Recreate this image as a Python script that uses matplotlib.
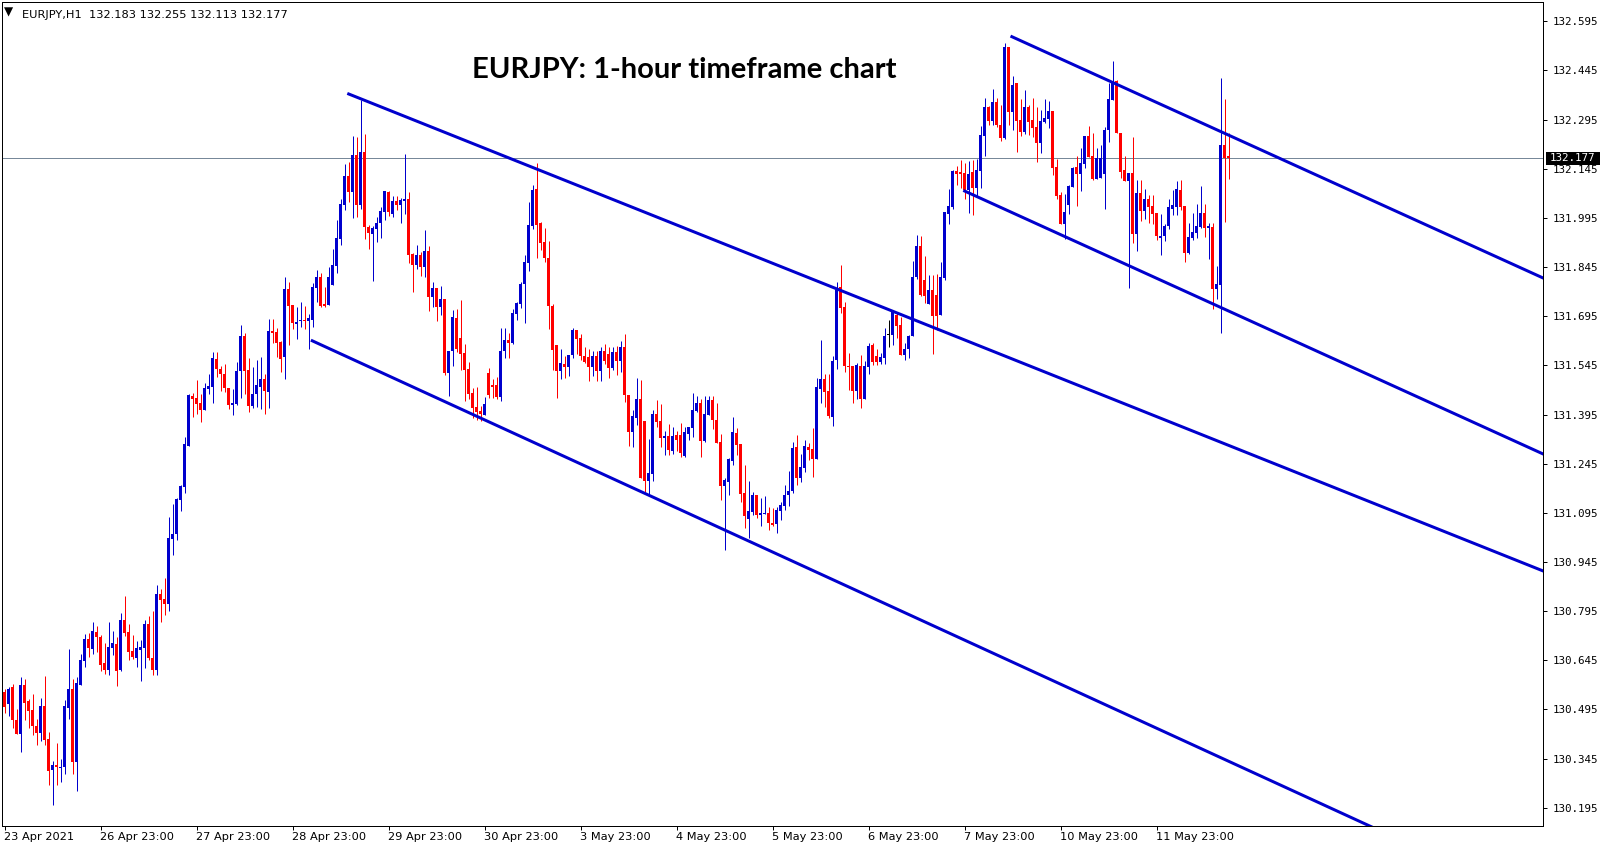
import matplotlib
matplotlib.use("Agg")
import matplotlib.pyplot as plt
from matplotlib import font_manager
from matplotlib.patches import Rectangle
import numpy as np

# ---------------- data (EURJPY H1) ----------------
opens = [
130.549,130.513,130.563,130.462,130.421,130.570,130.521,130.493,130.445,130.424,
130.505,130.405,130.311,130.325,130.317,130.320,130.500,130.557,130.336,130.571,
130.644,130.710,130.680,130.731,130.716,130.637,130.616,130.684,130.695,130.616,
130.768,130.731,130.674,130.653,130.677,130.684,130.756,130.653,130.615,130.848,
130.832,130.817,131.015,131.031,131.134,131.174,131.299,131.452,131.446,131.430,
131.409,131.473,131.479,131.565,131.534,131.519,131.476,131.424,131.427,131.528,
131.635,131.531,131.421,131.458,131.479,131.504,131.464,131.650,131.647,131.616,
131.571,131.778,131.729,131.671,131.680,131.684,131.680,131.684,131.781,131.815,
131.732,131.729,131.790,131.848,131.931,132.034,132.123,132.074,132.187,132.034,
132.196,131.967,131.946,131.961,131.980,132.013,132.074,132.007,132.047,132.034,
132.047,132.053,131.885,131.851,131.882,131.845,131.894,131.754,131.781,131.723,
131.748,131.522,131.589,131.690,131.629,131.583,131.534,131.461,131.418,131.406,
131.394,131.522,131.485,131.485,131.449,131.589,131.622,131.613,131.702,131.732,
131.793,131.857,131.970,132.083,131.979,131.922,131.873,131.726,131.607,131.528,
131.549,131.540,131.577,131.653,131.629,131.575,131.570,131.541,131.575,131.529,
131.590,131.580,131.538,131.585,131.558,131.600,131.456,131.343,131.386,131.443,
131.375,131.193,131.215,131.397,131.375,131.324,131.330,131.285,131.333,131.333,
131.270,131.337,131.355,131.407,131.430,131.315,131.395,131.439,131.378,131.312,
131.176,131.189,131.253,131.339,131.305,131.156,131.076,131.098,131.150,131.089,
131.092,131.095,131.064,131.061,131.101,131.116,131.150,131.162,131.296,131.201,
131.232,131.296,131.290,131.259,131.473,131.504,131.467,131.388,131.562,131.784,
131.723,131.543,131.543,131.467,131.543,131.442,131.540,131.607,131.574,131.556,
131.568,131.638,131.638,131.699,131.668,131.577,131.595,131.635,131.815,131.909,
131.806,131.732,131.775,131.760,131.699,131.812,132.007,132.028,132.138,132.135,
132.132,132.080,132.135,132.086,132.138,132.245,132.334,132.291,132.349,132.279,
132.239,132.517,132.318,132.407,132.294,132.257,132.334,132.294,132.272,132.224,
132.288,132.297,132.321,132.150,132.065,131.977,132.034,132.089,132.150,132.129,
132.160,132.245,132.184,132.114,132.117,132.129,132.263,132.355,132.413,132.254,
132.141,132.108,132.132,131.946,132.071,132.016,132.053,132.032,132.010,131.934,
131.940,131.970,132.022,132.028,132.080,132.032,131.888,131.934,131.949,131.967,
132.010,131.964,131.967,131.778,131.790,132.218,132.183,
]
highs = [
130.557,130.563,130.573,130.496,130.594,130.588,130.527,130.542,130.467,130.530,
130.597,130.426,130.338,130.393,130.344,130.524,130.679,130.588,130.594,130.664,
130.725,130.728,130.762,130.750,130.722,130.699,130.762,130.734,130.716,130.789,
130.841,130.756,130.722,130.704,130.707,130.768,130.780,130.796,130.875,130.863,
130.896,131.082,131.122,131.140,131.180,131.327,131.458,131.461,131.501,131.458,
131.491,131.519,131.586,131.586,131.543,131.549,131.476,131.473,131.555,131.668,
131.644,131.568,131.540,131.562,131.571,131.519,131.687,131.687,131.659,131.619,
131.815,131.800,131.729,131.723,131.738,131.726,131.702,131.796,131.836,131.827,
131.784,131.845,131.900,131.989,132.053,132.160,132.166,132.245,132.242,132.355,
132.251,131.973,131.970,131.998,132.028,132.077,132.077,132.062,132.062,132.056,
132.190,132.074,131.888,131.912,131.891,131.958,131.909,131.800,131.781,131.787,
131.748,131.589,131.714,131.717,131.745,131.610,131.555,131.476,131.479,131.421,
131.449,131.537,131.503,131.510,131.659,131.659,131.644,131.717,131.738,131.799,
131.882,132.044,132.095,132.163,131.983,131.964,131.925,131.732,131.607,131.595,
131.574,131.577,131.659,131.653,131.640,131.600,131.595,131.590,131.590,131.600,
131.610,131.600,131.600,131.605,131.620,131.640,131.456,131.409,131.507,131.500,
131.375,131.320,131.409,131.439,131.427,131.346,131.366,131.358,131.346,131.370,
131.358,131.358,131.461,131.452,131.443,131.452,131.452,131.452,131.431,131.336,
131.200,131.262,131.388,131.354,131.305,131.241,131.192,131.159,131.150,131.140,
131.146,131.113,131.110,131.113,131.128,131.180,131.223,131.311,131.333,131.275,
131.317,131.308,131.354,131.507,131.623,131.519,131.519,131.574,131.800,131.851,
131.738,131.583,131.543,131.552,131.577,131.558,131.613,131.613,131.595,131.583,
131.659,131.684,131.714,131.708,131.693,131.613,131.638,131.864,131.943,131.940,
131.879,131.821,131.821,131.824,131.861,132.013,132.083,132.141,132.153,132.172,
132.163,132.169,132.172,132.175,132.276,132.361,132.337,132.388,132.361,132.340,
132.529,132.517,132.428,132.407,132.358,132.385,132.340,132.361,132.334,132.324,
132.358,132.352,132.321,132.175,132.074,132.068,132.096,132.150,132.184,132.208,
132.245,132.276,132.254,132.208,132.218,132.272,132.407,132.474,132.416,132.254,
132.184,132.132,132.242,132.111,132.111,132.083,132.065,132.065,132.010,132.007,
131.977,132.053,132.080,132.108,132.111,132.032,131.980,132.010,132.038,132.092,
132.038,131.980,131.980,131.848,132.422,132.358,132.255,
]
lows = [
130.485,130.476,130.439,130.421,130.366,130.463,130.439,130.418,130.387,130.400,
130.387,130.265,130.204,130.265,130.275,130.299,130.467,130.299,130.247,130.571,
130.626,130.656,130.665,130.671,130.613,130.604,130.601,130.662,130.568,130.613,
130.720,130.647,130.650,130.626,130.583,130.622,130.647,130.600,130.600,130.762,
130.783,130.796,130.967,131.012,131.101,131.156,131.299,131.388,131.397,131.372,
131.409,131.458,131.430,131.510,131.467,131.464,131.412,131.394,131.424,131.446,
131.458,131.403,131.415,131.418,131.412,131.397,131.415,131.613,131.571,131.525,
131.504,131.607,131.656,131.626,131.662,131.656,131.595,131.662,131.738,131.723,
131.723,131.729,131.790,131.827,131.912,132.019,132.044,131.995,131.998,132.022,
131.931,131.900,131.803,131.922,131.934,131.989,132.001,131.998,132.019,131.980,
132.007,131.857,131.769,131.839,131.818,131.815,131.711,131.723,131.680,131.699,
131.516,131.452,131.543,131.586,131.531,131.436,131.442,131.384,131.378,131.375,
131.394,131.446,131.446,131.442,131.436,131.568,131.568,131.610,131.683,131.720,
131.674,131.833,131.960,131.873,131.897,131.860,131.656,131.531,131.446,131.503,
131.506,131.513,131.568,131.580,131.561,131.552,131.498,131.514,131.498,131.498,
131.550,131.508,131.532,131.517,131.526,131.434,131.300,131.297,131.364,131.202,
131.158,131.151,131.193,131.358,131.297,131.273,131.273,131.276,131.285,131.267,
131.267,131.318,131.328,131.404,131.267,131.312,131.394,131.352,131.307,131.135,
130.982,131.150,131.241,131.272,131.128,131.049,131.018,131.089,131.079,131.055,
131.092,131.043,131.055,131.034,131.073,131.104,131.116,131.156,131.180,131.189,
131.220,131.256,131.204,131.259,131.430,131.418,131.385,131.360,131.534,131.705,
131.525,131.470,131.430,131.442,131.415,131.442,131.519,131.545,131.545,131.548,
131.550,131.601,131.608,131.629,131.577,131.561,131.567,131.635,131.809,131.757,
131.735,131.732,131.580,131.653,131.699,131.806,131.976,132.022,132.095,132.086,
132.053,132.010,132.004,132.062,132.086,132.184,132.279,132.279,132.273,132.230,
132.236,132.279,132.263,132.196,132.245,132.251,132.248,132.242,132.166,132.193,
132.285,132.269,132.126,132.053,131.977,131.931,132.007,132.089,132.031,132.077,
132.147,132.181,132.111,132.114,132.117,132.022,132.227,132.355,132.254,132.117,
132.108,131.781,131.919,131.894,131.986,131.992,131.980,131.977,131.928,131.882,
131.925,131.961,132.004,132.004,132.019,131.861,131.885,131.928,131.934,131.964,
131.937,131.870,131.717,131.748,131.644,131.983,132.113,
]
closes = [
130.503,130.557,130.462,130.421,130.570,130.516,130.489,130.445,130.424,130.505,
130.403,130.308,130.325,130.318,130.319,130.505,130.557,130.336,130.576,130.646,
130.710,130.684,130.734,130.717,130.632,130.616,130.686,130.698,130.613,130.768,
130.729,130.671,130.656,130.683,130.686,130.756,130.653,130.615,130.848,130.829,
130.817,131.018,131.031,131.137,131.177,131.305,131.455,131.443,131.427,131.409,
131.476,131.482,131.568,131.534,131.519,131.476,131.424,131.430,131.528,131.635,
131.528,131.421,131.458,131.485,131.504,131.467,131.650,131.644,131.613,131.565,
131.778,131.726,131.674,131.677,131.684,131.682,131.690,131.784,131.815,131.726,
131.726,131.815,131.851,131.934,132.037,132.123,132.074,132.187,132.034,132.196,
131.967,131.949,131.964,131.980,132.016,132.077,132.013,132.047,132.034,132.050,
132.053,131.882,131.851,131.882,131.845,131.894,131.754,131.781,131.723,131.748,
131.522,131.589,131.693,131.595,131.580,131.531,131.458,131.415,131.403,131.397,
131.427,131.455,131.479,131.449,131.589,131.622,131.613,131.705,131.735,131.793,
131.860,131.973,132.080,131.973,131.918,131.873,131.726,131.592,131.528,131.552,
131.540,131.577,131.653,131.625,131.575,131.556,131.541,131.575,131.529,131.590,
131.558,131.538,131.585,131.558,131.600,131.456,131.343,131.392,131.443,131.202,
131.193,131.217,131.397,131.373,131.324,131.330,131.288,131.330,131.318,131.279,
131.342,131.357,131.409,131.430,131.315,131.397,131.439,131.379,131.309,131.178,
131.195,131.259,131.342,131.302,131.153,131.086,131.101,131.150,131.089,131.095,
131.095,131.064,131.058,131.104,131.119,131.150,131.162,131.293,131.201,131.235,
131.299,131.287,131.259,131.479,131.504,131.464,131.391,131.558,131.775,131.720,
131.543,131.540,131.467,131.546,131.442,131.543,131.604,131.556,131.556,131.571,
131.635,131.638,131.708,131.665,131.577,131.595,131.635,131.815,131.909,131.760,
131.757,131.775,131.696,131.696,131.815,132.013,132.031,132.138,132.129,132.129,
132.080,132.129,132.086,132.141,132.248,132.334,132.291,132.349,132.279,132.239,
132.517,132.318,132.401,132.291,132.257,132.334,132.288,132.269,132.224,132.291,
132.300,132.321,132.147,132.062,131.977,132.013,132.092,132.147,132.129,132.163,
132.245,132.181,132.114,132.178,132.178,132.263,132.358,132.413,132.254,132.135,
132.108,132.132,131.946,132.071,132.016,132.053,132.028,132.007,131.940,131.940,
131.970,132.028,132.035,132.083,132.028,131.888,131.937,131.952,131.970,132.010,
131.964,131.970,131.778,131.793,132.218,132.178,132.177,
]

date_labels = ["23 Apr 2021", "26 Apr 23:00", "27 Apr 23:00", "28 Apr 23:00",
               "29 Apr 23:00", "30 Apr 23:00", "3 May 23:00", "4 May 23:00",
               "5 May 23:00", "6 May 23:00", "7 May 23:00", "10 May 23:00",
               "11 May 23:00"]
date_bar_index = [0, 24, 48, 72, 96, 120, 144, 168, 192, 216, 240, 264, 288]

price_ticks = [130.195, 130.345, 130.495, 130.645, 130.795, 130.945, 131.095,
               131.245, 131.395, 131.545, 131.695, 131.845, 131.995, 132.145,
               132.295, 132.445, 132.595]

# trend lines: (bar, price) anchor pairs, drawn as rays to the right
trend_lines = [
    ((85.7, 132.375), (384.6, 130.918)),
    ((76.6, 131.622), (339.6, 130.149)),
    ((251.5, 132.550), (384.6, 131.812)),
    ((239.7, 132.079), (384.6, 131.275)),
]

symbol = "EURJPY,H1"
last_bar = "132.183 132.255 132.113 132.177"
last_price = 132.177
title = "EURJPY: 1-hour timeframe chart"

# ---------------- figure ----------------
W, H, DPI = 1607, 850, 100
fig = plt.figure(figsize=(W / DPI, H / DPI), dpi=DPI)
fig.patch.set_facecolor("white")
PX = 72.0 / DPI  # points per pixel

def has_font(name):
    try:
        font_manager.findfont(font_manager.FontProperties(family=name),
                              fallback_to_default=False)
        return True
    except Exception:
        return False

title_font = "Lato" if has_font("Lato") else "DejaVu Sans"
date_font = "Liberation Sans Narrow" if has_font("Liberation Sans Narrow") else "DejaVu Sans"
mono_font = "DejaVu Sans Mono"
head_font = "DejaVu Sans"

renderer = fig.canvas.get_renderer()

def fit(text, family, target_px, weight="normal", base=10.0):
    t = fig.text(0, 0, text, fontsize=base, family=family, weight=weight)
    w = t.get_window_extent(renderer).width
    t.remove()
    return base * target_px / w

# axes placed in pixels: left 2, right 1543, top 2, bottom 826
L, R, T, B = 2, 1543, 2, 826
ax = fig.add_axes([L / W, 1 - B / H, (R - L) / W, (B - T) / H])
ax.set_facecolor("white")

n = len(closes)
x = np.arange(n)
o = np.array(opens); h = np.array(highs); l = np.array(lows); c = np.array(closes)

bar_px = 4.0
x0 = -(4.5 - L) / bar_px
x1 = x0 + (R - L) / bar_px
ax.set_xlim(x0, x1)

ppu = 327.7  # pixels per price unit
y_top = last_price + (158.3 - T) / ppu
y_bot = last_price - (B - 158.3) / ppu
ax.set_ylim(y_bot, y_top)

BLUE = "#0000CD"
RED = "#FF0000"
cols = np.where(c > o, BLUE, np.where(c < o, RED, "#000000"))

ax.axhline(last_price, color="#778899", lw=1 * PX, zorder=1)

ax.vlines(x, l, h, colors=cols, lw=1 * PX, zorder=3)
body_bottom = np.minimum(o, c)
body_h = np.maximum(np.abs(c - o), 1.0 / ppu)
ax.bar(x, body_h, bottom=body_bottom, width=0.75, color=cols, linewidth=0,
       zorder=4)

for (a, b) in trend_lines:
    (ta, pa), (tb, pb) = a, b
    slope = (pb - pa) / (tb - ta)
    xe = x1 + 2
    ax.plot([ta, xe], [pa, pa + slope * (xe - ta)], color=BLUE,
            lw=3 * PX, solid_capstyle="butt", zorder=5)

# axes styling
for s in ax.spines.values():
    s.set_color("black")
    s.set_linewidth(1 * PX)

ysize = fit("132.595", mono_font, 46)
ax.yaxis.tick_right()
ax.set_yticks(price_ticks)
ax.set_yticklabels([f"{p:.3f}" for p in price_ticks], family=mono_font,
                   fontsize=ysize)
ax.tick_params(axis="y", direction="out", length=4 * PX, width=1 * PX,
               pad=6 * PX, colors="black")

xsize = fit("26 Apr 23:00", date_font, 74)
ax.set_xticks(date_bar_index)
ax.set_xticklabels(date_labels, family=date_font, fontsize=xsize, ha="left")
ax.tick_params(axis="x", direction="out", length=4 * PX, width=1 * PX,
               pad=1.5 * PX, colors="black")

# header (top-left)
hsize = fit(symbol + "  " + last_bar, head_font, 264)
fig.text(8.5 / W, 1 - 12.5 / H, "\u25BC", fontsize=hsize * 1.05, family=head_font,
         ha="center", va="center", color="black")
fig.text(22 / W, 1 - 17.5 / H, symbol + "  " + last_bar, fontsize=hsize,
         family=head_font, ha="left", va="baseline", color="black")

# title
tsize = fit(title, title_font, 426, weight="bold")
fig.text(471.5 / W, 1 - 78 / H, title, fontsize=tsize, family=title_font,
         weight="bold", ha="left", va="baseline", color="black")

# last price box on the price scale
box = Rectangle((1545.5 / W, 1 - 165 / H), (1600 - 1545.5) / W, 13.5 / H,
                transform=fig.transFigure, facecolor="black", edgecolor="none",
                zorder=10)
fig.add_artist(box)
fig.text(1572.75 / W, 1 - 158.3 / H, f"{last_price:.3f}", fontsize=ysize,
         family=mono_font, color="white", ha="center", va="center", zorder=11)

fig.savefig("out.png", dpi=DPI, facecolor="white")
